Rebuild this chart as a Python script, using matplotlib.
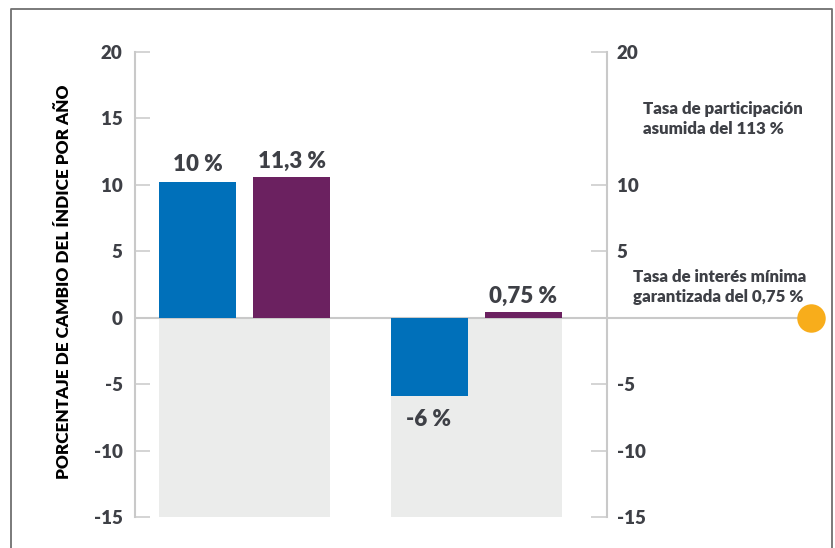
import matplotlib
matplotlib.use("Agg")
import matplotlib.pyplot as plt
from matplotlib.lines import Line2D

plt.rcParams['font.family'] = ['Lato', 'DejaVu Sans']

# ---- data ----
groups = ["Año 1", "Año 2"]
index_change = [10.2, -5.9]          # blue bars (bar heights as drawn)
credited_rate = [10.6, 0.45]         # purple bars (bar heights as drawn)
index_labels = ["10 %", "-6 %"]
credited_labels = ["11,3 %", "0,75 %"]
left_ticks = [20, 15, 10, 5, 0, -5, -10, -15]
right_ticks = [20, 10, 5, -5, -10, -15]
ymin, ymax = -15, 20
note_participation = "Tasa de participación\nasumida del 113 %"
note_floor = "Tasa de interés mínima\ngarantizada del 0,75 %"
ylabel = "PORCENTAJE DE CAMBIO DEL ÍNDICE POR AÑO"

# ---- style ----
BLUE = "#0070ba"
PURPLE = "#6b2160"
BG = "#ebeceb"
AXIS = "#c9c9c9"
TXT = "#3e4046"
GOLD = "#f8ad1b"
FRAME = "#707070"
NUM_W = 'heavy'

W, H = 835, 548
fig = plt.figure(figsize=(W / 100, H / 100), dpi=100)

ax_left_px, ax_right_px = 135, 822
ax_top_px, ax_bot_px = 52, 517
ax = fig.add_axes([ax_left_px / W, 1 - ax_bot_px / H,
                   (ax_right_px - ax_left_px) / W, (ax_bot_px - ax_top_px) / H])

unit = 94.0  # px per x unit
g1_px = 244.5
xlim = ((ax_left_px - g1_px) / unit, (ax_right_px - g1_px) / unit)
centers = [0.0, (476 - g1_px) / unit]
bar_w = 77 / unit
off = 0.5

# background panels below zero
for c in centers:
    ax.bar(c, ymin, width=bar_w + 2 * off, bottom=0, color=BG, zorder=1, align='center')

ax.bar([c - off for c in centers], index_change, width=bar_w, color=BLUE, zorder=3)
ax.bar([c + off for c in centers], credited_rate, width=bar_w, color=PURPLE, zorder=3)

# zero line and gold dot
dot_x = (810.7 - g1_px) / unit
ax.plot([xlim[0], dot_x], [0, 0], color=AXIS, lw=1.5, zorder=2, solid_capstyle='butt')
ax.scatter([dot_x], [0], s=420, color=GOLD, zorder=5, clip_on=False, linewidths=0)

# value labels
lab_fs = 16
for c, v, t in zip(centers, index_change, index_labels):
    if v >= 0:
        ax.annotate(t, (c - off, v), xytext=(0, 7), textcoords='offset pixels',
                    ha='center', va='bottom', fontsize=lab_fs, fontweight=NUM_W, color=TXT)
    else:
        ax.annotate(t, (c - off, v), xytext=(0, -13), textcoords='offset pixels',
                    ha='center', va='top', fontsize=lab_fs, fontweight=NUM_W, color=TXT)
for c, v, t in zip(centers, credited_rate, credited_labels):
    ax.annotate(t, (c + off, v), xytext=(0, 5), textcoords='offset pixels',
                ha='center', va='bottom', fontsize=lab_fs, fontweight=NUM_W, color=TXT)

ax.set_xlim(*xlim)
ax.set_ylim(ymin, ymax)
ax.set_xticks([])
ax.set_yticks(left_ticks)
ax.set_yticklabels([str(t) for t in left_ticks])
for s in ['top', 'right', 'bottom']:
    ax.spines[s].set_visible(False)
ax.spines['left'].set_color(AXIS)
ax.spines['left'].set_linewidth(1.5)
ax.tick_params(axis='y', direction='in', length=11, width=1.1, color=AXIS,
               pad=9, labelsize=13.5, labelcolor=TXT)
for lab in ax.get_yticklabels():
    lab.set_fontweight(NUM_W)

# right axis
ax2 = ax.twinx()
ax2.set_ylim(ymin, ymax)
ax2.set_yticks(right_ticks)
ax2.set_yticklabels([str(t) for t in right_ticks])
for s in ['top', 'left', 'bottom']:
    ax2.spines[s].set_visible(False)
rfrac = (607 - ax_left_px) / (ax_right_px - ax_left_px)
ax2.spines['right'].set_position(('axes', rfrac))
ax2.spines['right'].set_color(AXIS)
ax2.spines['right'].set_linewidth(1.5)
ax2.tick_params(axis='y', direction='in', length=11.5, width=1.1, color=AXIS,
                pad=7, labelsize=13.5, labelcolor=TXT)
for lab in ax2.get_yticklabels():
    lab.set_fontweight(NUM_W)

# notes
def fx(px):
    return px / W
def fy(py):
    return 1 - py / H

fig.text(fx(643), fy(134), note_participation, ha='left', va='baseline',
         fontsize=12.2, fontweight=NUM_W, color=TXT, linespacing=1.3)
fig.text(fx(633), fy(302), note_floor, ha='left', va='baseline',
         fontsize=12.2, fontweight=NUM_W, color=TXT, linespacing=1.3)

# y label
fig.text(fx(64), fy(282), ylabel, rotation=90, ha='center', va='center',
         fontsize=12.3, fontweight=NUM_W, color='black')

# frame
fig.add_artist(Line2D([fx(11), fx(11), fx(832), fx(832)], [0, fy(9), fy(9), 0],
                      transform=fig.transFigure, color=FRAME, lw=1.3))

fig.savefig("out.png", dpi=100)
